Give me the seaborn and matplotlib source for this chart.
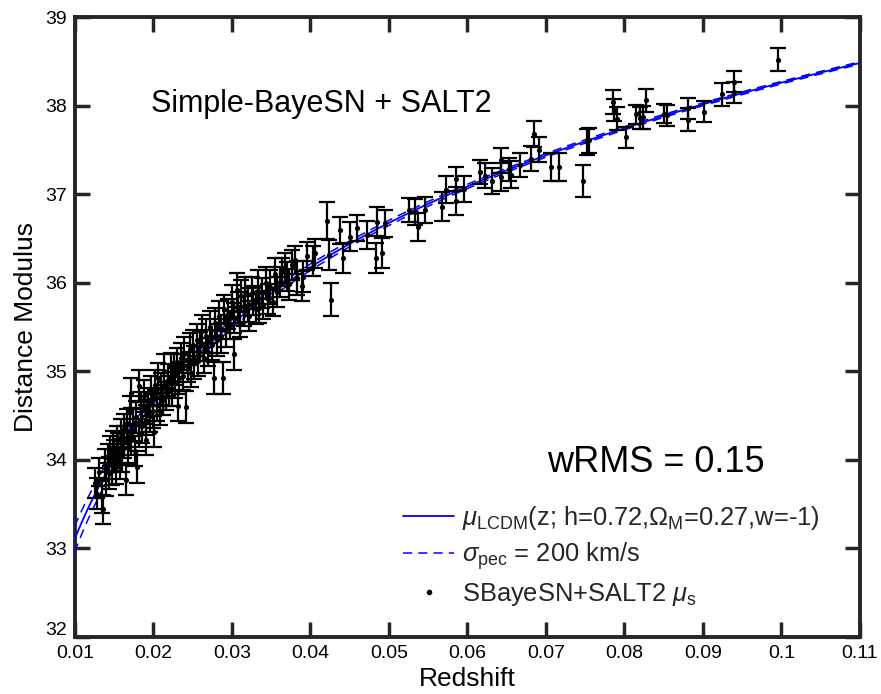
import numpy as np
import matplotlib
matplotlib.use("Agg")
import matplotlib.pyplot as plt
from matplotlib import font_manager as fm
from matplotlib import transforms as mtrans
from matplotlib.lines import Line2D
import seaborn as sns

# ---------------- data ----------------
# sparse / higher-redshift supernovae
z_hi = [0.0996, 0.0939, 0.0939, 0.0924, 0.0901, 0.0881, 0.0881, 0.0854, 0.0850, 0.0828,
        0.0824, 0.0820, 0.0815, 0.0802, 0.0790, 0.0785, 0.0787, 0.0752, 0.0755, 0.0747,
        0.0717, 0.0707, 0.0691, 0.0685, 0.0681, 0.0667, 0.0656, 0.0653, 0.0643, 0.0643,
        0.0631, 0.0622, 0.0616, 0.0596, 0.0586, 0.0586, 0.0573, 0.0567, 0.0546, 0.0537,
        0.0533, 0.0525, 0.0495, 0.0491, 0.0485, 0.0484, 0.0472, 0.0459, 0.0450, 0.0438,
        0.0441, 0.0421, 0.0426, 0.0423, 0.0406, 0.0403, 0.0390, 0.0389, 0.0380, 0.0368,
        0.0370, 0.0361, 0.0306, 0.0302, 0.0289, 0.0277, 0.0242, 0.0231, 0.0181, 0.0171,
        0.0201, 0.0191, 0.0179, 0.0165, 0.0136, 0.0126]
mu_hi = [38.52, 38.27, 38.15, 38.13, 37.93, 37.97, 37.84, 37.89, 37.91, 38.06,
         37.87, 37.86, 37.90, 37.64, 37.85, 38.04, 37.95, 37.59, 37.61, 37.15,
         37.31, 37.31, 37.50, 37.68, 37.40, 37.33, 37.22, 37.28, 37.38, 37.19,
         37.15, 37.21, 37.25, 37.06, 37.17, 36.92, 37.05, 36.86, 36.82, 36.63,
         36.80, 36.82, 36.67, 36.34, 36.69, 36.28, 36.54, 36.62, 36.52, 36.59,
         36.28, 36.70, 35.81, 36.31, 36.33, 36.25, 36.07, 35.96, 36.26, 36.17,
         36.07, 36.01, 35.92, 35.19, 34.92, 34.92, 34.60, 34.61, 34.83, 34.76,
         34.32, 34.23, 33.92, 33.77, 33.44, 33.74]
err_hi = [0.13, 0.12, 0.12, 0.13, 0.12, 0.12, 0.13, 0.12, 0.11, 0.13,
          0.13, 0.12, 0.11, 0.12, 0.13, 0.14, 0.12, 0.15, 0.14, 0.18,
          0.16, 0.16, 0.14, 0.15, 0.14, 0.14, 0.15, 0.13, 0.14, 0.16,
          0.15, 0.14, 0.14, 0.15, 0.14, 0.16, 0.15, 0.16, 0.15, 0.16,
          0.15, 0.14, 0.15, 0.17, 0.16, 0.17, 0.16, 0.15, 0.16, 0.15,
          0.17, 0.21, 0.19, 0.17, 0.16, 0.17, 0.18, 0.17, 0.16, 0.17,
          0.16, 0.17, 0.19, 0.17, 0.18, 0.18, 0.18, 0.17, 0.18, 0.17,
          0.18, 0.17, 0.18, 0.17, 0.16, 0.17]

# dense low-redshift cloud
z_lo = [0.0128, 0.0131, 0.0134, 0.0138, 0.0140, 0.0142, 0.0143, 0.0145, 0.0147, 0.0149,
        0.0150, 0.0152, 0.0153, 0.0155, 0.0157, 0.0158, 0.0160, 0.0162, 0.0163, 0.0166,
        0.0168, 0.0170, 0.0172, 0.0174, 0.0176, 0.0178, 0.0182, 0.0184, 0.0186, 0.0188,
        0.0190, 0.0193, 0.0195, 0.0197, 0.0199, 0.0202, 0.0204, 0.0206, 0.0208, 0.0210,
        0.0212, 0.0214, 0.0216, 0.0218, 0.0220, 0.0222, 0.0224, 0.0226, 0.0228, 0.0230,
        0.0233, 0.0235, 0.0237, 0.0239, 0.0244, 0.0246, 0.0248, 0.0250, 0.0252, 0.0255,
        0.0257, 0.0259, 0.0262, 0.0264, 0.0267, 0.0270, 0.0272, 0.0275, 0.0279, 0.0281,
        0.0284, 0.0286, 0.0290, 0.0292, 0.0295, 0.0297, 0.0300, 0.0303, 0.0308, 0.0310,
        0.0312, 0.0315, 0.0317, 0.0320, 0.0322, 0.0325, 0.0327, 0.0330, 0.0333, 0.0335,
        0.0338, 0.0340, 0.0343, 0.0346, 0.0349, 0.0352, 0.0355, 0.0358, 0.0364, 0.0373,
        0.0376, 0.0383, 0.0395]
mu_lo = [33.62, 33.86, 33.58, 33.95, 33.78, 34.02, 33.85, 34.10, 33.88, 34.15,
         34.05, 33.92, 34.22, 34.12, 33.95, 34.30, 34.05, 34.35, 34.20, 34.42,
         34.15, 34.55, 34.22, 34.40, 34.10, 34.48, 34.30, 34.60, 34.38, 34.72,
         34.45, 34.65, 34.50, 34.78, 34.55, 34.85, 34.62, 34.92, 34.55, 34.80,
         34.68, 35.00, 34.72, 34.90, 34.78, 35.05, 34.80, 35.02, 34.88, 35.10,
         34.92, 35.15, 34.95, 35.20, 35.05, 35.25, 34.98, 35.30, 35.10, 35.35,
         35.12, 35.28, 35.45, 35.15, 35.40, 35.22, 35.50, 35.30, 35.55, 35.35,
         35.62, 35.40, 35.70, 35.45, 35.65, 35.52, 35.78, 35.60, 35.72, 35.55,
         35.85, 35.68, 35.90, 35.75, 35.62, 35.88, 35.80, 35.70, 35.95, 35.72,
         35.88, 35.75, 36.00, 35.82, 35.95, 35.78, 36.10, 35.90, 36.12, 35.98,
         36.20, 36.05, 36.30]
err_lo = [0.17, 0.16, 0.18, 0.17, 0.19, 0.16, 0.18, 0.17, 0.16, 0.18,
          0.17, 0.19, 0.16, 0.18, 0.17, 0.16, 0.19, 0.17, 0.18, 0.16,
          0.18, 0.17, 0.16, 0.19, 0.17, 0.18, 0.16, 0.17, 0.19, 0.18,
          0.17, 0.16, 0.18, 0.17, 0.19, 0.16, 0.18, 0.17, 0.16, 0.18,
          0.17, 0.19, 0.16, 0.18, 0.17, 0.16, 0.19, 0.17, 0.18, 0.16,
          0.18, 0.17, 0.16, 0.19, 0.17, 0.18, 0.16, 0.17, 0.19, 0.18,
          0.17, 0.16, 0.18, 0.17, 0.19, 0.16, 0.18, 0.17, 0.16, 0.18,
          0.17, 0.19, 0.16, 0.18, 0.17, 0.16, 0.19, 0.17, 0.18, 0.16,
          0.18, 0.17, 0.16, 0.19, 0.17, 0.18, 0.16, 0.17, 0.19, 0.18,
          0.17, 0.16, 0.18, 0.17, 0.19, 0.16, 0.18, 0.17, 0.16, 0.18,
          0.17, 0.19, 0.16]

# model parameters (from the legend)
h_param = 0.72
omega_m = 0.27
w_param = -1.0
sigma_pec = 200.0  # km/s
wrms_text = "wRMS = 0.15"

x_ticks = [0.01, 0.02, 0.03, 0.04, 0.05, 0.06, 0.07, 0.08, 0.09, 0.1, 0.11]
x_ticklabels = ["0.01", "0.02", "0.03", "0.04", "0.05", "0.06", "0.07", "0.08", "0.09", "0.1", "0.11"]
y_ticks = [32, 33, 34, 35, 36, 37, 38, 39]

# ---------------- model curve ----------------
c_kms = 299792.458
zgrid = np.linspace(0.0, 0.11, 2201)
Ez = np.sqrt(omega_m * (1 + zgrid) ** 3 + (1 - omega_m) * (1 + zgrid) ** (3 * (1 + w_param)))
integ = np.concatenate([[0.0], np.cumsum(0.5 * (1 / Ez[1:] + 1 / Ez[:-1]) * np.diff(zgrid))])
dl = (1 + zgrid) * c_kms / (100 * h_param) * integ
mask = zgrid >= 0.0099
zc = zgrid[mask]
mu_model = 5 * np.log10(dl[mask] * 1e5)
sig = 5 / np.log(10) * sigma_pec / (c_kms * zc)

# ---------------- style ----------------
sns.set_theme(style="white")
names = {f.name for f in fm.fontManager.ttflist}
main_font = "Liberation Sans" if "Liberation Sans" in names else "DejaVu Sans"
tick_font = "Liberation Sans Narrow" if "Liberation Sans Narrow" in names else main_font
plt.rcParams["font.family"] = [main_font, "DejaVu Sans"]
plt.rcParams["mathtext.fontset"] = "custom"
plt.rcParams["mathtext.rm"] = main_font
plt.rcParams["mathtext.it"] = main_font + ":italic"
plt.rcParams["mathtext.bf"] = main_font + ":bold"

frame_col = "#262626"
fig = plt.figure(figsize=(8.81, 6.94), dpi=100)
ax = fig.add_axes([0.0851, 0.0821, 0.8910, 0.8934])

# model and peculiar velocity band
sns.lineplot(x=zc, y=mu_model, ax=ax, color="blue", lw=1.3, zorder=3)
sns.lineplot(x=zc, y=mu_model + sig, ax=ax, color="blue", lw=1.1, zorder=3)
sns.lineplot(x=zc, y=mu_model - sig, ax=ax, color="blue", lw=1.1, zorder=3)
for ln in ax.lines[1:3]:
    ln.set_linestyle((0, (6, 4)))

# data
z_all = np.array(z_lo + z_hi)
mu_all = np.array(mu_lo + mu_hi)
err_all = np.array(err_lo + err_hi)
ax.errorbar(z_all, mu_all, yerr=err_all, fmt="none", ecolor="black",
            elinewidth=1.6, capsize=6, capthick=1.6, zorder=4)
sns.scatterplot(x=z_all, y=mu_all, ax=ax, color="black", s=14, linewidth=0, zorder=5)

ax.set_xlim(0.01, 0.11)
ax.set_ylim(32, 39)
ax.set_xticks(x_ticks)
ax.set_xticklabels(x_ticklabels)
ax.set_yticks(y_ticks)
for lab in ax.get_xticklabels() + ax.get_yticklabels():
    lab.set_family([tick_font, "DejaVu Sans"])
    lab.set_fontsize(14)
    lab.set_color("black")
ax.tick_params(direction="in", length=11, width=2.5, color=frame_col,
               top=True, right=True, bottom=True, left=True)
ax.tick_params(axis="x", pad=6)
ax.tick_params(axis="y", pad=6)
# lift the lowest y label a little so it clears the first x label
ylab0 = ax.get_yticklabels()[0]
ylab0.set_transform(ylab0.get_transform() + mtrans.ScaledTranslation(0, 6 / 72, fig.dpi_scale_trans))
for sp in ax.spines.values():
    sp.set_linewidth(2.8)
    sp.set_color(frame_col)
    sp.set_visible(True)

ax.set_xlabel("Redshift", fontsize=19, color="black", labelpad=3)
ax.set_ylabel("Distance Modulus", fontsize=19, color="black", labelpad=5)

ax.text(0.097, 0.860, "Simple-BayeSN + SALT2", transform=ax.transAxes,
        fontsize=22, va="center", ha="left", color="black")
ax.text(0.74, 0.282, wrms_text, transform=ax.transAxes,
        fontsize=26, va="center", ha="center", color="black")

handles = [
    Line2D([], [], color="blue", lw=1.3),
    Line2D([], [], color="blue", lw=1.1, linestyle=(0, (6, 4))),
    Line2D([], [], color="black", marker=".", linestyle="none", markersize=6),
]
labels = [
    r"$\mu_{\mathrm{LCDM}}$(z; h=0.72,$\Omega_{\mathrm{M}}$=0.27,w=-1)",
    r"$\sigma_{\mathrm{pec}}$ = 200 km/s",
    r"SBayeSN+SALT2 $\mu_{\mathrm{s}}$",
]
ax.legend(handles, labels, loc="lower right", bbox_to_anchor=(0.962, 0.03),
          frameon=False, fontsize=18.4, handlelength=2.0, handletextpad=0.3,
          labelspacing=0.35, borderaxespad=0.0)

fig.savefig("out.png", dpi=100)
